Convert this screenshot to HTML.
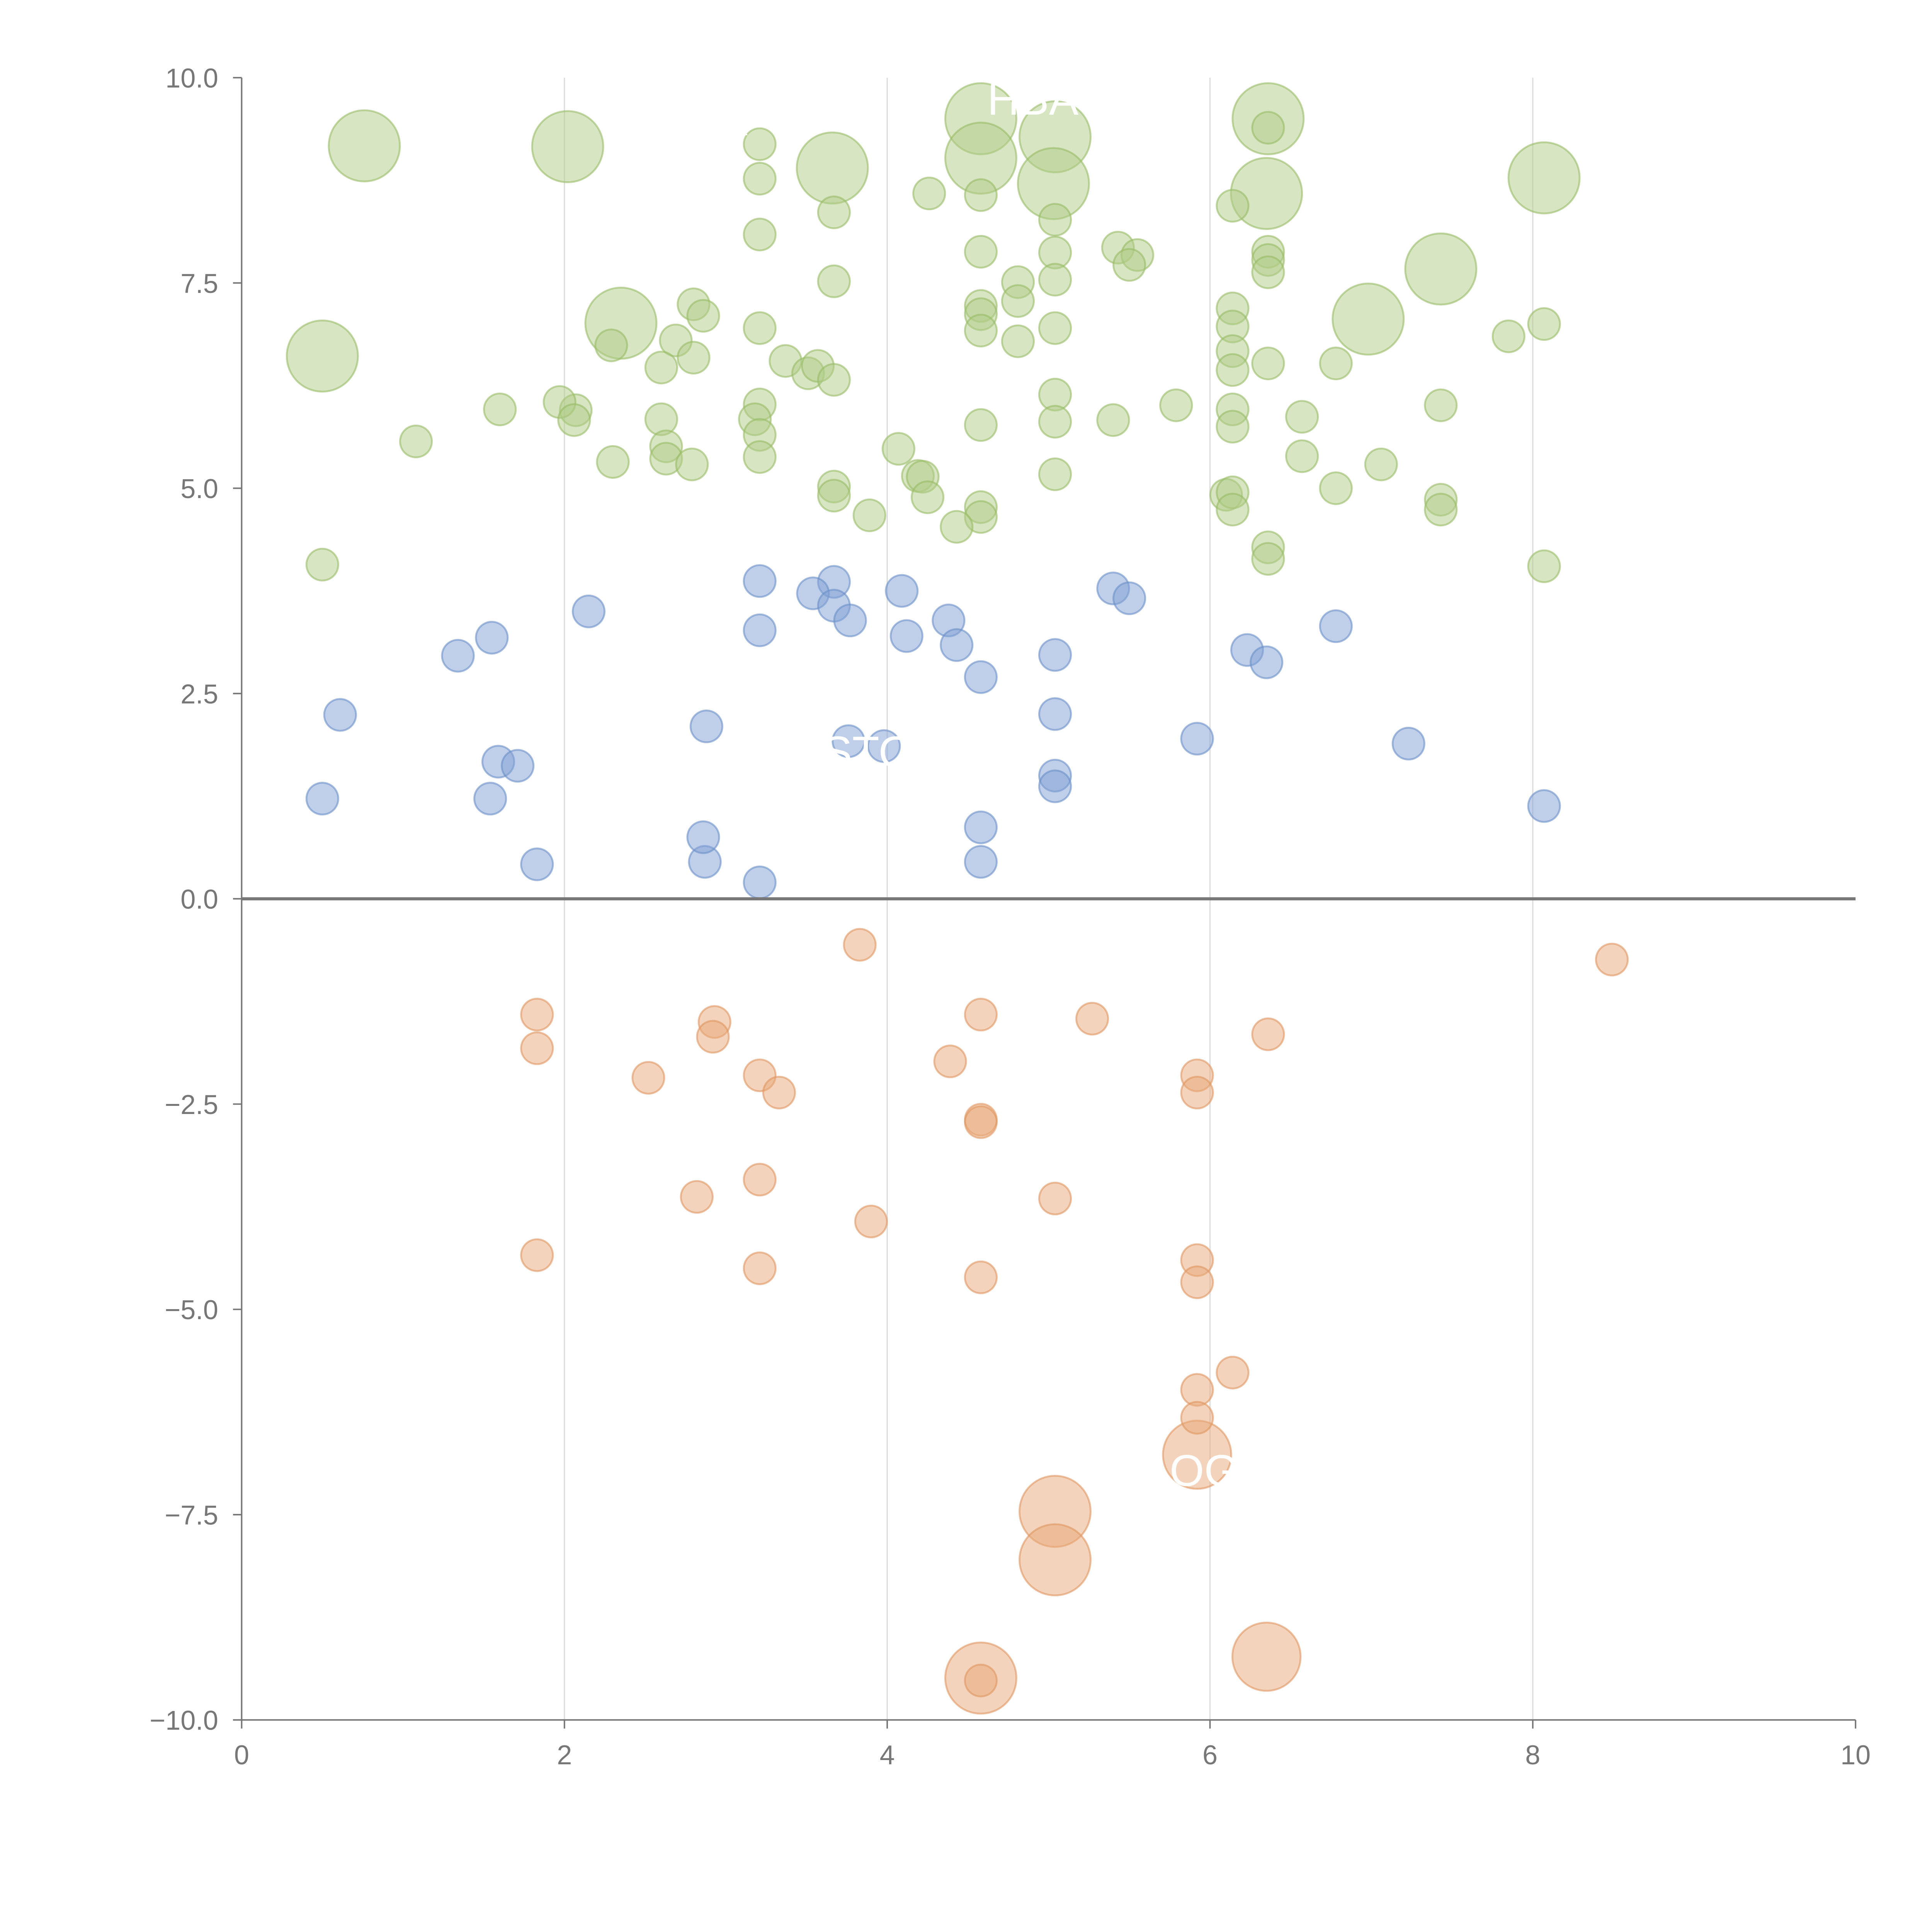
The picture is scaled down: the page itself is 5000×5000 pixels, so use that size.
<!DOCTYPE html>
<html><head><meta charset="utf-8"><style>
html,body{margin:0;padding:0;background:#fff;width:5000px;height:5000px;overflow:hidden}
svg{display:block}
text{font-family:"Liberation Sans",Arial,sans-serif}
</style></head><body>
<svg id="chart" width="5000" height="5000" viewBox="0 0 1567 1567" xmlns="http://www.w3.org/2000/svg">
<g id="grid"></g>
<g id="marks"></g>
<g id="axes"></g>
<g id="labels"></g>
</svg>
<script>
const xTicks=[0,2,4,6,8,10];
const yTicks=[10,7.5,5,2.5,0,-2.5,-5,-7.5,-10];
const greenX=[0.76,2.02,2.35,0.50,3.66,4.58,4.58,5.04,5.03,6.36,6.35,7.43,6.98,8.07,
3.21,3.21,3.21,3.67,3.67,4.26,4.58,4.58,5.04,5.04,5.04,5.04,4.81,4.81,4.81,4.58,4.58,4.58,5.43,5.55,5.50,6.14,6.36,6.36,6.36,6.36,6.14,6.14,6.14,6.14,6.36,6.14,6.14,6.78,6.57,6.57,6.78,7.06,7.43,7.85,8.07,7.43,7.43,8.07,6.36,6.36,6.10,6.14,6.14,5.79,5.40,5.04,5.04,5.04,4.58,4.58,4.58,4.43,4.07,4.19,4.22,4.25,3.89,3.67,3.67,3.21,3.18,3.21,3.21,3.21,3.37,3.51,3.57,3.67,2.80,2.86,2.69,2.80,2.60,2.29,2.60,2.63,2.63,2.79,2.30,2.07,1.97,2.06,1.60,1.08,0.50];
const greenY=[9.17,9.16,7.01,6.61,8.90,9.50,9.02,9.28,8.71,9.50,8.59,7.67,7.06,8.78,
9.19,8.77,8.09,8.36,7.52,8.59,8.57,7.88,8.27,7.87,7.54,6.95,7.51,7.28,6.79,7.22,7.12,6.92,7.93,7.84,7.72,8.44,9.39,7.88,7.78,7.63,7.19,6.97,6.67,6.44,6.52,5.96,5.75,6.52,5.87,5.39,5.00,5.29,6.01,6.85,7.00,4.86,4.74,4.05,4.28,4.14,4.92,4.95,4.74,6.01,5.83,6.14,5.81,5.17,5.77,4.77,4.65,4.53,5.48,5.15,5.14,4.89,4.67,5.02,4.91,6.02,5.84,5.65,5.38,6.95,6.55,6.40,6.49,6.32,7.24,7.10,6.80,6.59,6.47,6.74,5.84,5.51,5.36,5.29,5.32,5.95,6.05,5.83,5.96,5.57,4.07];
const greenS=[5,5,5,5,5,5,5,5,5,5,5,5,5,5];
const blueX=[3.21,3.21,3.67,3.54,3.67,3.77,4.09,4.12,4.38,4.43,4.58,5.04,5.04,5.40,5.50,6.23,6.35,6.78,5.92,7.23,8.07,5.04,5.04,4.58,4.58,3.76,3.98,3.21,2.87,2.86,2.88,2.15,1.55,1.34,0.61,0.50,1.54,1.59,1.71,1.83];
const blueY=[3.87,3.27,3.86,3.72,3.57,3.39,3.75,3.20,3.39,3.09,2.70,2.97,2.25,3.78,3.66,3.03,2.88,3.32,1.95,1.89,1.13,1.50,1.37,0.87,0.45,1.92,1.86,0.20,0.45,0.75,2.10,3.50,3.18,2.96,2.24,1.22,1.22,1.67,1.62,0.42];
const orangeX=[5.92,5.04,5.04,6.35,4.58,3.83,8.49,1.83,1.83,2.93,2.92,2.52,3.21,3.33,4.58,4.39,5.27,6.36,5.92,5.92,4.58,4.58,2.82,3.21,3.90,5.04,1.83,3.21,4.58,5.92,5.92,6.14,5.92,5.92,4.58];
const orangeY=[-6.77,-7.46,-8.05,-9.23,-9.49,-0.56,-0.74,-1.41,-1.82,-1.50,-1.68,-2.18,-2.15,-2.36,-1.41,-1.98,-1.46,-1.65,-2.15,-2.36,-2.69,-2.72,-3.63,-3.42,-3.93,-3.65,-4.34,-4.50,-4.61,-4.40,-4.67,-5.77,-5.98,-6.32,-9.52];
const orangeS=[4.6,5,5,4.6,5];
const NS="http://www.w3.org/2000/svg";
const X0=196,X1=1505,Y0=1395,Y1=63;
function sx(v){return X0+(v-0)/(10-0)*(X1-X0);}
function sy(v){return Y0-(v+10)/20*(Y0-Y1);}
function rad(s){return 12.9*Math.sqrt(s);}
function mk(tag,attrs,parent){const e=document.createElementNS(NS,tag);for(const k in attrs)e.setAttribute(k,attrs[k]);parent.appendChild(e);return e;}
const grid=document.getElementById('grid'),marks=document.getElementById('marks'),axes=document.getElementById('axes'),labels=document.getElementById('labels');
xTicks.forEach(t=>{if(t>0&&t<10){const l=mk('line',{x1:sx(t),x2:sx(t),y1:Y1,y2:Y0,stroke:'#dcdcdc','stroke-width':1},grid);

}});
function series(xs,ys,ss,fill,stroke,name){
 xs.forEach((x,i)=>{const s=(ss[i]!==undefined)?ss[i]:1;
  const c=mk('circle',{cx:sx(x),cy:sy(ys[i]),r:rad(s),fill:fill,'fill-opacity':0.5,stroke:stroke,'stroke-opacity':0.6,'stroke-width':1.5},marks);
  
  });
}
series(greenX,greenY,greenS,'#afcc85','#98bb66','bubble-green');
series(blueX,blueY,[],'#7fa0d3','#6a8fc8','bubble-blue');
series(orangeX,orangeY,orangeS,'#e8a878','#e09660','bubble-orange');
const zl=mk('line',{x1:X0,x2:X1,y1:sy(0),y2:sy(0),stroke:'#777','stroke-width':2.5},axes);


const ya=mk('line',{x1:X0,x2:X0,y1:Y1,y2:Y0,stroke:'#777','stroke-width':1.2},axes);


const xa=mk('line',{x1:X0,x2:X1,y1:Y0,y2:Y0,stroke:'#777','stroke-width':1.2},axes);


yTicks.forEach(t=>{const y=sy(t);mk('line',{x1:X0-7,x2:X0,y1:y,y2:y,stroke:'#777','stroke-width':1.2},axes);
 const tx=mk('text',{x:X0-19,y:y+8,'text-anchor':'end','font-size':22,fill:'#777'},axes);
 
 
 tx.textContent=(t<0?'\u2212':'')+Math.abs(t).toFixed(1);});
xTicks.forEach(t=>{const x=sx(t);mk('line',{x1:x,x2:x,y1:Y0,y2:Y0+7,stroke:'#777','stroke-width':1.2},axes);
 const tx=mk('text',{x:x,y:Y0+36,'text-anchor':'middle','font-size':22,fill:'#777'},axes);
 
 
 tx.textContent=String(t);});
const lbl=[["HBA",4.62,9.55],["R",2.95,9.3],["STO",3.6,1.6],["OG",5.75,-7.15]];
lbl.forEach(l=>{const t=mk('text',{x:sx(l[1]),y:sy(l[2]),'font-size':36,fill:'#fff'},labels);
 
 
 t.textContent=l[0];});
</script>
</body></html>
